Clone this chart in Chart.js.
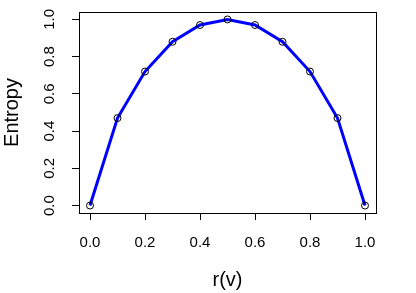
<!DOCTYPE html>
<html>
<head>
<meta charset="utf-8">
<script src="https://cdn.jsdelivr.net/npm/chart.js@4/dist/chart.umd.min.js"></script>
<style>
  html, body { margin: 0; padding: 0; background: #fff; }
  #wrap { width: 416px; height: 293px; }
</style>
</head>
<body>
<div id="wrap"><canvas id="entropyChart"></canvas></div>
<script>
// values
const rValues = [0.0, 0.1, 0.2, 0.3, 0.4, 0.5, 0.6, 0.7, 0.8, 0.9, 1.0];
const entropyValues = [0.0, 0.47, 0.72, 0.88, 0.97, 1.0, 0.97, 0.88, 0.72, 0.47, 0.0];
const xTicks = [0, 0.2, 0.4, 0.6, 0.8, 1.0];
const yTicks = [0, 0.2, 0.4, 0.6, 0.8, 1.0];

const FONT = "'Liberation Sans', Arial, sans-serif";

let points = rValues.map((r, i) => ({ x: r, y: entropyValues[i] }));

// R style box around the plot region
const boxPlugin = {
    id: 'box',
    afterDatasetsDraw(chart) {
        let a = chart.chartArea;
        let c = chart.ctx;
        c.save();
        c.strokeStyle = '#000';
        c.lineWidth = 1;
        c.strokeRect(Math.round(a.left) + 0.5, Math.round(a.top) + 0.5,
            Math.round(a.right - a.left), Math.round(a.bottom - a.top));
        c.restore();
    }
};

new Chart(document.getElementById('entropyChart').getContext('2d'), {
    type: 'scatter',
    data: {
        datasets: [{
            data: points,
            showLine: true,
            borderColor: '#0000ff',
            borderWidth: 3,
            pointRadius: 0,
            order: 2
        }, {
            data: points,
            showLine: false,
            pointRadius: 3.5,
            pointBorderWidth: 1,
            pointBorderColor: '#000',
            pointBackgroundColor: 'rgba(0,0,0,0)',
            order: 1
        }]
    },
    options: {
        responsive: true,
        maintainAspectRatio: false,
        animation: false,
        events: [],
        layout: { padding: { top: 12, right: 40, left: 0, bottom: 0 } },
        plugins: { legend: { display: false }, tooltip: { enabled: false } },
        scales: {
            x: {
                type: 'linear',
                min: -0.04,
                max: 1.04,
                afterBuildTicks: (s) => { s.ticks = xTicks.map(v => ({ value: v })); },
                afterFit: (s) => { s.height = 80; s.paddingLeft = 0; s.paddingRight = 0; },
                border: { display: false },
                grid: { drawOnChartArea: false, drawTicks: true, tickLength: 7, color: '#000', lineWidth: 1 },
                ticks: {
                    autoSkip: false,
                    maxRotation: 0,
                    padding: 14,
                    color: '#000',
                    font: { family: FONT, size: 15 },
                    callback: (v) => v.toFixed(1)
                },
                title: {
                    display: true,
                    text: 'r(v)',
                    color: '#000',
                    font: { family: FONT, size: 20 },
                    padding: { top: 0, bottom: 1 }
                }
            },
            y: {
                type: 'linear',
                min: -0.04,
                max: 1.04,
                afterBuildTicks: (s) => { s.ticks = yTicks.map(v => ({ value: v })); },
                afterFit: (s) => { s.width = 79; s.paddingTop = 0; s.paddingBottom = 0; },
                border: { display: false },
                grid: { drawOnChartArea: false, drawTicks: true, tickLength: 7, color: '#000', lineWidth: 1 },
                ticks: {
                    autoSkip: false,
                    minRotation: 90,
                    maxRotation: 90,
                    crossAlign: 'center',
                    padding: 12,
                    color: '#000',
                    font: { family: FONT, size: 15 },
                    callback: (v) => v.toFixed(1)
                },
                title: {
                    display: true,
                    text: 'Entropy',
                    color: '#000',
                    font: { family: FONT, size: 20 },
                    padding: { top: 0, bottom: 0 }
                }
            }
        }
    },
    plugins: [boxPlugin]
});
</script>
</body>
</html>
